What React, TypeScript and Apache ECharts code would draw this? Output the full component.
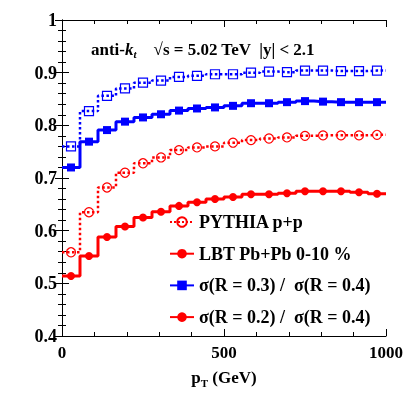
import React, { useEffect, useRef } from "react";
import * as echarts from "echarts";

const ptBinCenters = [27.8, 83.3, 138.9, 194.4, 250, 305.6, 361.1, 416.7, 472.2, 527.8, 583.3, 638.9, 694.4, 750, 805.6, 861.1, 916.7, 972.2];
const ptRange = [0, 1000];

const pythiaR03 = [0.760, 0.827, 0.856, 0.870, 0.881, 0.885, 0.892, 0.894, 0.897, 0.897, 0.900, 0.902, 0.901, 0.904, 0.904, 0.903, 0.903, 0.904];
const lbtR03 = [0.720, 0.769, 0.791, 0.807, 0.815, 0.821, 0.828, 0.832, 0.834, 0.837, 0.842, 0.842, 0.844, 0.846, 0.845, 0.844, 0.844, 0.844];
const pythiaR02 = [0.559, 0.635, 0.682, 0.710, 0.728, 0.739, 0.753, 0.758, 0.760, 0.767, 0.772, 0.775, 0.777, 0.780, 0.781, 0.781, 0.781, 0.782];
const lbtR02 = [0.514, 0.552, 0.588, 0.608, 0.625, 0.636, 0.647, 0.654, 0.660, 0.664, 0.669, 0.669, 0.671, 0.675, 0.675, 0.675, 0.673, 0.670];

const legendNames = ["PYTHIA p+p", "LBT Pb+Pb 0-10 %", "σ(R = 0.3) /  σ(R = 0.4)", "σ(R = 0.2) /  σ(R = 0.4)"];

const BLUE = "#0000ff";
const RED = "#ff0000";
const FONT = "'Liberation Serif', 'DejaVu Serif', serif";

function histData(vals: number[]) {
  const out: any[] = [{ value: [ptRange[0], vals[0]], symbol: "none" }];
  ptBinCenters.forEach((x, i) => out.push([x, vals[i]]));
  out.push({ value: [ptRange[1], vals[vals.length - 1]], symbol: "none" });
  return out;
}

export default function App() {
  const ref = useRef<HTMLDivElement>(null);
  useEffect(() => {
    if (!ref.current) return;
    const chart = echarts.init(ref.current, null, { renderer: "svg" });
    const axisCommon = {
      axisLine: { show: true, lineStyle: { color: "#000", width: 1 } },
      axisTick: { show: true, inside: true, length: 7, lineStyle: { color: "#000" } },
      minorTick: { show: true, splitNumber: 5, length: 4, lineStyle: { color: "#000" } },
      splitLine: { show: false },
    };
    const mk = (name: string, vals: number[], color: string, dotted: boolean, symbol: string, open: boolean) => ({
      name,
      type: "line",
      step: "middle",
      data: histData(vals),
      symbol,
      symbolSize: open ? 9 : 8,
      showSymbol: true,
      lineStyle: { color, width: dotted ? 2.5 : 3, type: dotted ? "dotted" : "solid" },
      itemStyle: open
        ? { color: "rgba(255,255,255,0)", borderColor: color, borderWidth: 1.2 }
        : { color, borderColor: color, borderWidth: 0 },
      z: 3,
    });
    chart.setOption({
      animation: false,
      grid: { left: 62, right: 23, top: 20, bottom: 59 },
      title: {
        left: 86,
        top: 35,
        text: "{b|anti-}{k|k}{t|t}{b|    }{r|√}{b|s = 5.02 TeV  |y| < 2.1}",
        textStyle: {
          rich: {
            b: { fontFamily: FONT, fontWeight: "bold", fontSize: 17, color: "#000" },
            k: { fontFamily: FONT, fontWeight: "bold", fontStyle: "italic", fontSize: 17, color: "#000" },
            t: { fontFamily: FONT, fontWeight: "bold", fontStyle: "italic", fontSize: 11, color: "#000", padding: [8, 0, 0, 0] },
            r: { fontFamily: FONT, fontWeight: "normal", fontSize: 17, color: "#000" },
          },
        },
      },
      legend: {
        data: legendNames,
        orient: "vertical",
        left: 164,
        top: 208,
        itemWidth: 24,
        itemHeight: 12,
        itemGap: 13.7,
        textStyle: { fontFamily: FONT, fontWeight: "bold", fontSize: 18, color: "#000" },
      },
      xAxis: [
        {
          type: "value",
          min: 0,
          max: 1000,
          interval: 500,
          ...axisCommon,
          axisLabel: { fontFamily: FONT, fontWeight: "bold", fontSize: 17, color: "#000", margin: 8, formatter: (v: number) => String(v) },
          name: "{p|p}{s|T}{p| (GeV)}",
          nameLocation: "middle",
          nameGap: 31,
          nameTextStyle: {
            rich: {
              p: { fontFamily: FONT, fontWeight: "bold", fontSize: 17, color: "#000" },
              s: { fontFamily: FONT, fontWeight: "bold", fontSize: 11, color: "#000", padding: [10, 0, 0, 0] },
            },
          },
        },
        {
          type: "value",
          position: "top",
          min: 0,
          max: 1000,
          interval: 500,
          ...axisCommon,
          axisLabel: { show: false },
        },
      ],
      yAxis: [
        {
          type: "value",
          min: 0.4,
          max: 1,
          interval: 0.1,
          ...axisCommon,
          axisLabel: { fontFamily: FONT, fontWeight: "bold", fontSize: 18, color: "#000", margin: 5 },
        },
        {
          type: "value",
          position: "right",
          min: 0.4,
          max: 1,
          interval: 0.1,
          ...axisCommon,
          axisLabel: { show: false },
        },
      ],
      series: [
        mk("PYTHIA R=0.3", pythiaR03, BLUE, true, "rect", true),
        mk(legendNames[2], lbtR03, BLUE, false, "rect", false),
        mk(legendNames[0], pythiaR02, RED, true, "circle", true),
        mk(legendNames[1], lbtR02, RED, false, "circle", false),
        {
          name: legendNames[3],
          type: "line",
          data: [],
          symbol: "circle",
          symbolSize: 8,
          lineStyle: { color: RED, width: 3 },
          itemStyle: { color: RED },
        },
      ],
    });
    return () => chart.dispose();
  }, []);
  return <div ref={ref} style={{ position: "fixed", left: 0, top: 0, width: 409, height: 395 }} />;
}
